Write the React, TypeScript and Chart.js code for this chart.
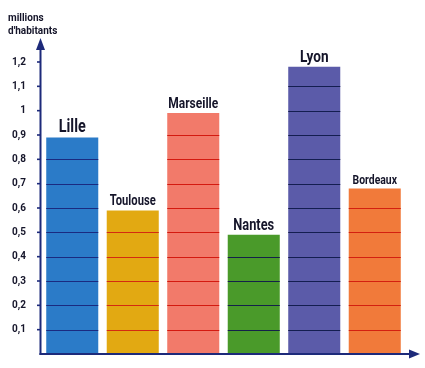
import React, { useEffect, useRef } from "react";
import { Chart, registerables } from "chart.js";

Chart.register(...registerables);

const categories = ["Lille", "Toulouse", "Marseille", "Nantes", "Lyon", "Bordeaux"];
const populations = [0.89, 0.59, 0.99, 0.49, 1.18, 0.68];
const yTickValues = [0.1, 0.2, 0.3, 0.4, 0.5, 0.6, 0.7, 0.8, 0.9, 1.0, 1.1, 1.2];
const yTitleLines = ["millions", "d'habitants"];

const barColors = ["#2b7bc8", "#e2a912", "#f27a6a", "#4a9a2a", "#5b5ba9", "#f17a3a"];
const stripeColors = ["#1a2a80", "#d42a10", "#d41a10", "#14204a", "#141e50", "#d42010"];
const labelFontSizes = [18, 14, 15, 16, 17, 13];

const AXIS = "#1d2a7a";
const TEXT = "#15152a";
const FONT = "Roboto, 'DejaVu Sans', sans-serif";

function fmt(v: number): string {
  return Number(v.toFixed(1)).toString().replace(".", ",");
}

const decorPlugin = {
  id: "decor",
  afterDatasetsDraw(chart: any) {
    const ctx = chart.ctx as CanvasRenderingContext2D;
    const yScale = chart.scales.y;
    const meta = chart.getDatasetMeta(0);
    ctx.save();
    meta.data.forEach((bar: any, i: number) => {
      const { x, width } = bar.getProps(["x", "width"], true);
      const val = populations[i];
      ctx.strokeStyle = stripeColors[i];
      ctx.lineWidth = 1.2;
      yTickValues.forEach((t) => {
        if (t < val - 0.005) {
          const py = Math.round(yScale.getPixelForValue(t)) + 0.5;
          ctx.beginPath();
          ctx.moveTo(x - width / 2, py);
          ctx.lineTo(x + width / 2, py);
          ctx.stroke();
        }
      });
    });
    ctx.restore();
  },
  afterDraw(chart: any) {
    const ctx = chart.ctx as CanvasRenderingContext2D;
    const area = chart.chartArea;
    const yScale = chart.scales.y;
    const meta = chart.getDatasetMeta(0);
    ctx.save();

    // bar labels
    meta.data.forEach((bar: any, i: number) => {
      const { x, y } = bar.getProps(["x", "y"], true);
      ctx.save();
      ctx.translate(x, y - 5);
      ctx.scale(0.8, 1);
      ctx.font = `bold ${labelFontSizes[i]}px ${FONT}`;
      ctx.fillStyle = TEXT;
      ctx.textAlign = "center";
      ctx.textBaseline = "alphabetic";
      ctx.fillText(categories[i], 0, 0);
      ctx.restore();
    });

    // axes
    const ax = area.left - 1.5;
    const bottom = area.bottom;
    ctx.strokeStyle = AXIS;
    ctx.fillStyle = AXIS;
    ctx.lineWidth = 2;
    ctx.beginPath();
    ctx.moveTo(ax, bottom + 1);
    ctx.lineTo(ax, area.top - 16);
    ctx.stroke();
    ctx.beginPath();
    ctx.moveTo(ax, area.top - 24);
    ctx.lineTo(ax - 4.5, area.top - 12);
    ctx.lineTo(ax + 4.5, area.top - 12);
    ctx.closePath();
    ctx.fill();

    ctx.beginPath();
    ctx.moveTo(ax - 1, bottom);
    ctx.lineTo(area.right + 8, bottom);
    ctx.stroke();
    ctx.beginPath();
    ctx.moveTo(area.right + 15, bottom);
    ctx.lineTo(area.right + 4, bottom - 4.5);
    ctx.lineTo(area.right + 4, bottom + 4.5);
    ctx.closePath();
    ctx.fill();

    // tick marks
    ctx.lineWidth = 1.6;
    yTickValues.forEach((t) => {
      const py = yScale.getPixelForValue(t);
      ctx.beginPath();
      ctx.moveTo(ax - 3.5, py);
      ctx.lineTo(ax + 0.5, py);
      ctx.stroke();
    });

    // axis title
    ctx.fillStyle = TEXT;
    ctx.font = `bold 10px ${FONT}`;
    ctx.textAlign = "left";
    ctx.textBaseline = "alphabetic";
    yTitleLines.forEach((line, k) => {
      ctx.fillText(line, 8, 21 + k * 13);
    });
    ctx.restore();
  },
};

export default function App() {
  const ref = useRef<HTMLCanvasElement | null>(null);
  useEffect(() => {
    if (!ref.current) return;
    const chart = new Chart(ref.current, {
      type: "bar",
      data: {
        labels: categories,
        datasets: [
          {
            data: populations,
            backgroundColor: barColors,
            borderWidth: 0,
            barPercentage: 0.86,
            categoryPercentage: 1,
          },
        ],
      },
      options: {
        responsive: false,
        animation: false,
        layout: { padding: { left: 6, right: 20, top: 62, bottom: 14 } },
        plugins: {
          legend: { display: false },
          tooltip: { enabled: false },
          title: { display: false },
        },
        scales: {
          x: { display: false },
          y: {
            min: 0,
            max: 1.2,
            afterFit: (s: any) => {
              s.width = 36;
            },
            afterBuildTicks: (s: any) => {
              s.ticks = yTickValues.map((v) => ({ value: v }));
            },
            grid: { display: false },
            border: { display: false },
            ticks: {
              padding: 8,
              color: TEXT,
              font: { family: FONT, size: 10, weight: "bold" },
              callback: (v: any) => fmt(Number(v)),
            },
          },
        },
      },
      plugins: [decorPlugin],
    });
    return () => chart.destroy();
  }, []);
  return (
    <div style={{ position: "absolute", left: 0, top: 0, width: 425, height: 368, background: "#fff" }}>
      <canvas ref={ref} width={425} height={368} style={{ display: "block" }} />
    </div>
  );
}
